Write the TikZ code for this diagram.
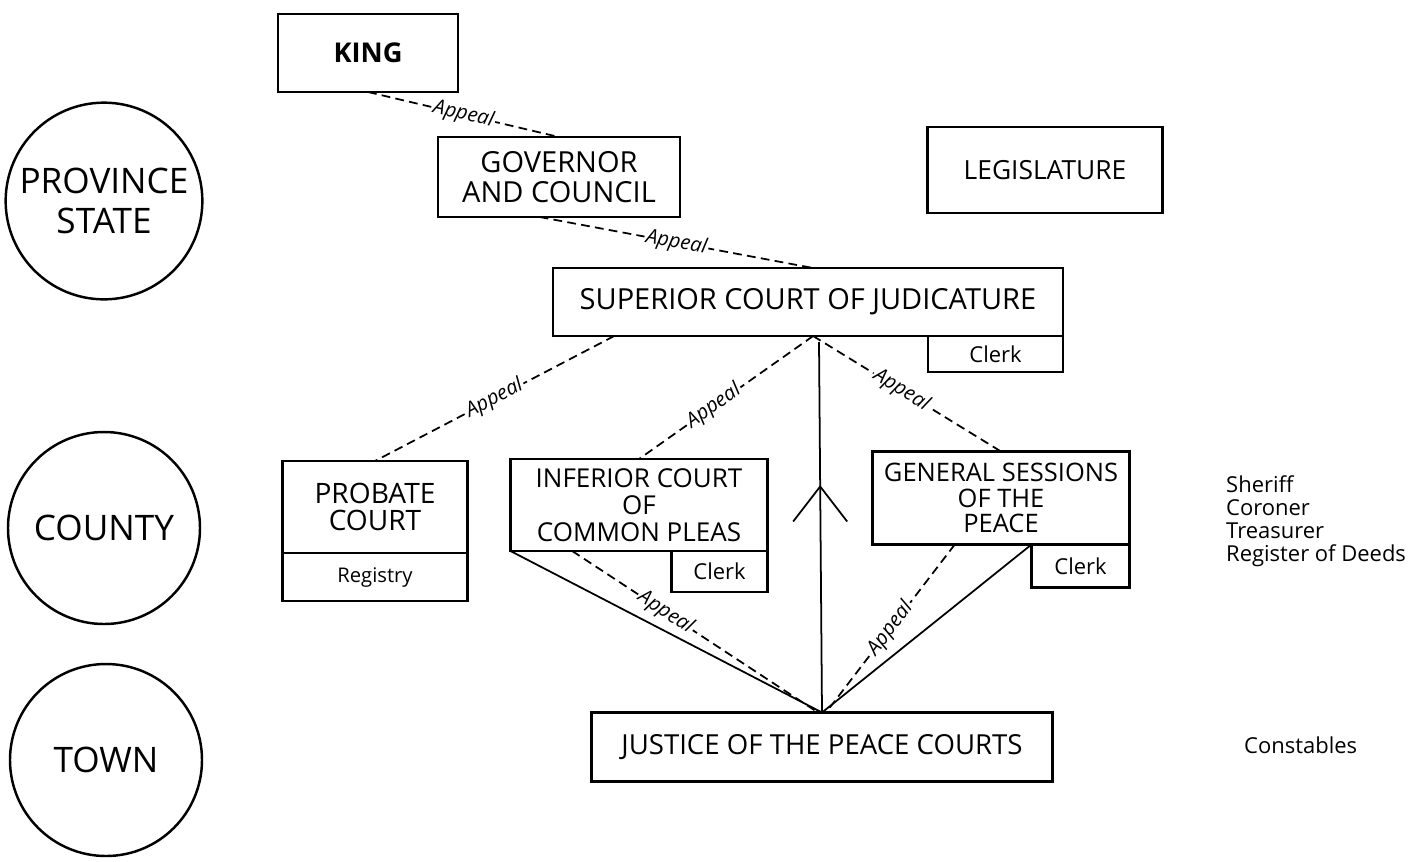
\documentclass[tikz,border=0pt]{standalone}
\usepackage{fontspec}
\setmainfont{Open Sans}
\usetikzlibrary{positioning,calc}

\begin{document}
\begin{tikzpicture}[x=0.2mm, y=-0.2mm,
  court/.style={draw, line width=1.6pt, outer sep=0pt, align=center, inner sep=2pt, font=\fontsize{15.5}{16}\selectfont},
  office/.style={draw, line width=1.6pt, outer sep=0pt, inner sep=2pt, font=\fontsize{12.5}{13}\selectfont},
  tier/.style={draw, circle, line width=1.4pt, minimum size=38.4mm, align=center, font=\fontsize{20}{23}\selectfont},
  appeal/.style={line width=1pt, dash pattern=on 5pt off 3pt},
  link/.style={line width=1pt},
  lbl/.style={sloped, fill=white, inner sep=1pt, font=\itshape\fontsize{11.5}{11.5}\selectfont},
  staff/.style={align=left, font=\fontsize{12.5}{13}\selectfont},
]
\useasboundingbox (0,0) rectangle (1418,861);

% levels of government
\node[tier] (prov) at (104,201) {PROVINCE\\STATE};
\node[tier] (county) at (104,528) {COUNTY};
\node[tier] (town) at (106,760) {TOWN};

% province / state
\node[court, minimum width=36mm, minimum height=15.6mm, font=\bfseries\fontsize{15.5}{16}\selectfont] (king) at (368,53) {KING};
\node[court, minimum width=48.4mm, minimum height=16mm, font=\fontsize{16.5}{17.5}\selectfont] (gov) at (559,177) {GOVERNOR\\AND COUNCIL};
\node[court, minimum width=47mm, minimum height=17.2mm, font=\fontsize{15}{16}\selectfont] (leg) at (1045,170) {LEGISLATURE};
\node[court, minimum width=102mm, minimum height=13.6mm, font=\fontsize{16.5}{17}\selectfont] (sup) at (808,302) {SUPERIOR COURT OF JUDICATURE};
\node[office, minimum width=27mm, minimum height=7.2mm, below left=0pt and 0pt of sup.south east] (supclerk) {Clerk};

% county
\node[court, minimum width=37mm, minimum height=18.4mm, font=\fontsize{16}{15.5}\selectfont] (prob) at (375,507) {PROBATE\\COURT};
\node[office, minimum width=37mm, minimum height=9.6mm, font=\fontsize{11.5}{12}\selectfont, below=0pt of prob] (reg) {Registry};
\node[court, minimum width=51.4mm, minimum height=18.4mm, font=\fontsize{14.8}{15.5}\selectfont] (inf) at (639,505) {INFERIOR COURT\\OF\\COMMON PLEAS};
\node[office, minimum width=19.2mm, minimum height=8.2mm, below left=0pt and 0pt of inf.south east] (infclerk) {Clerk};
\node[court, minimum width=51.4mm, minimum height=18.6mm, font=\fontsize{14.5}{14.5}\selectfont] (gs) at (1001,498) {GENERAL SESSIONS\\OF THE\\PEACE};
\node[office, minimum width=19.6mm, minimum height=8.6mm, below left=0pt and 0pt of gs.south east] (gsclerk) {Clerk};
\node[staff, anchor=west] (officers) at (1220,521) {Sheriff\\Coroner\\Treasurer\\Register of Deeds};

% town
\node[court, minimum width=92.2mm, minimum height=13.8mm, font=\fontsize{15.7}{16}\selectfont] (jp) at (822,747) {JUSTICE OF THE PEACE COURTS};
\node[staff, anchor=west] (const) at (1238,745) {Constables};

\coordinate (hub) at ($(sup.south west)!0.51!(sup.south east)$);
\coordinate (vtop) at ($(jp.north |- sup.south)+(-3,6)$);
\coordinate (tip) at ($(vtop)!0.39!(jp.north)$);

% appeals
\draw[appeal] (king.south) -- node[lbl] {Appeal} (gov.north);
\draw[appeal] ($(gov.south west)!0.42!(gov.south east)$) -- node[lbl] {Appeal} ($(sup.north west)!0.51!(sup.north east)$);
\draw[appeal] ($(sup.south west)!0.12!(sup.south east)$) -- node[lbl] {Appeal} (prob.north);
\draw[appeal] (hub) -- node[lbl, pos=0.57] {Appeal} (inf.north);
\draw[appeal] (hub) -- node[lbl, pos=0.47] {Appeal} (gs.north);
\draw[appeal] ($(inf.south west)!0.24!(inf.south east)$) -- node[lbl, pos=0.38] {Appeal} ($(jp.north)+(-4,0)$);
\draw[appeal] ($(gs.south west)!0.32!(gs.south east)$) -- node[lbl, pos=0.5] {Appeal} ($(jp.north)+(4,0)$);

% jurisdiction
\draw[link] (vtop) -- (jp.north);
\draw[link] ($(tip)+(-27,35)$) -- (tip) -- ($(tip)+(27,35)$);
\draw[link] (inf.south west) -- (jp.north);
\draw[link] (gsclerk.north west) -- (jp.north);
\end{tikzpicture}
\end{document}
